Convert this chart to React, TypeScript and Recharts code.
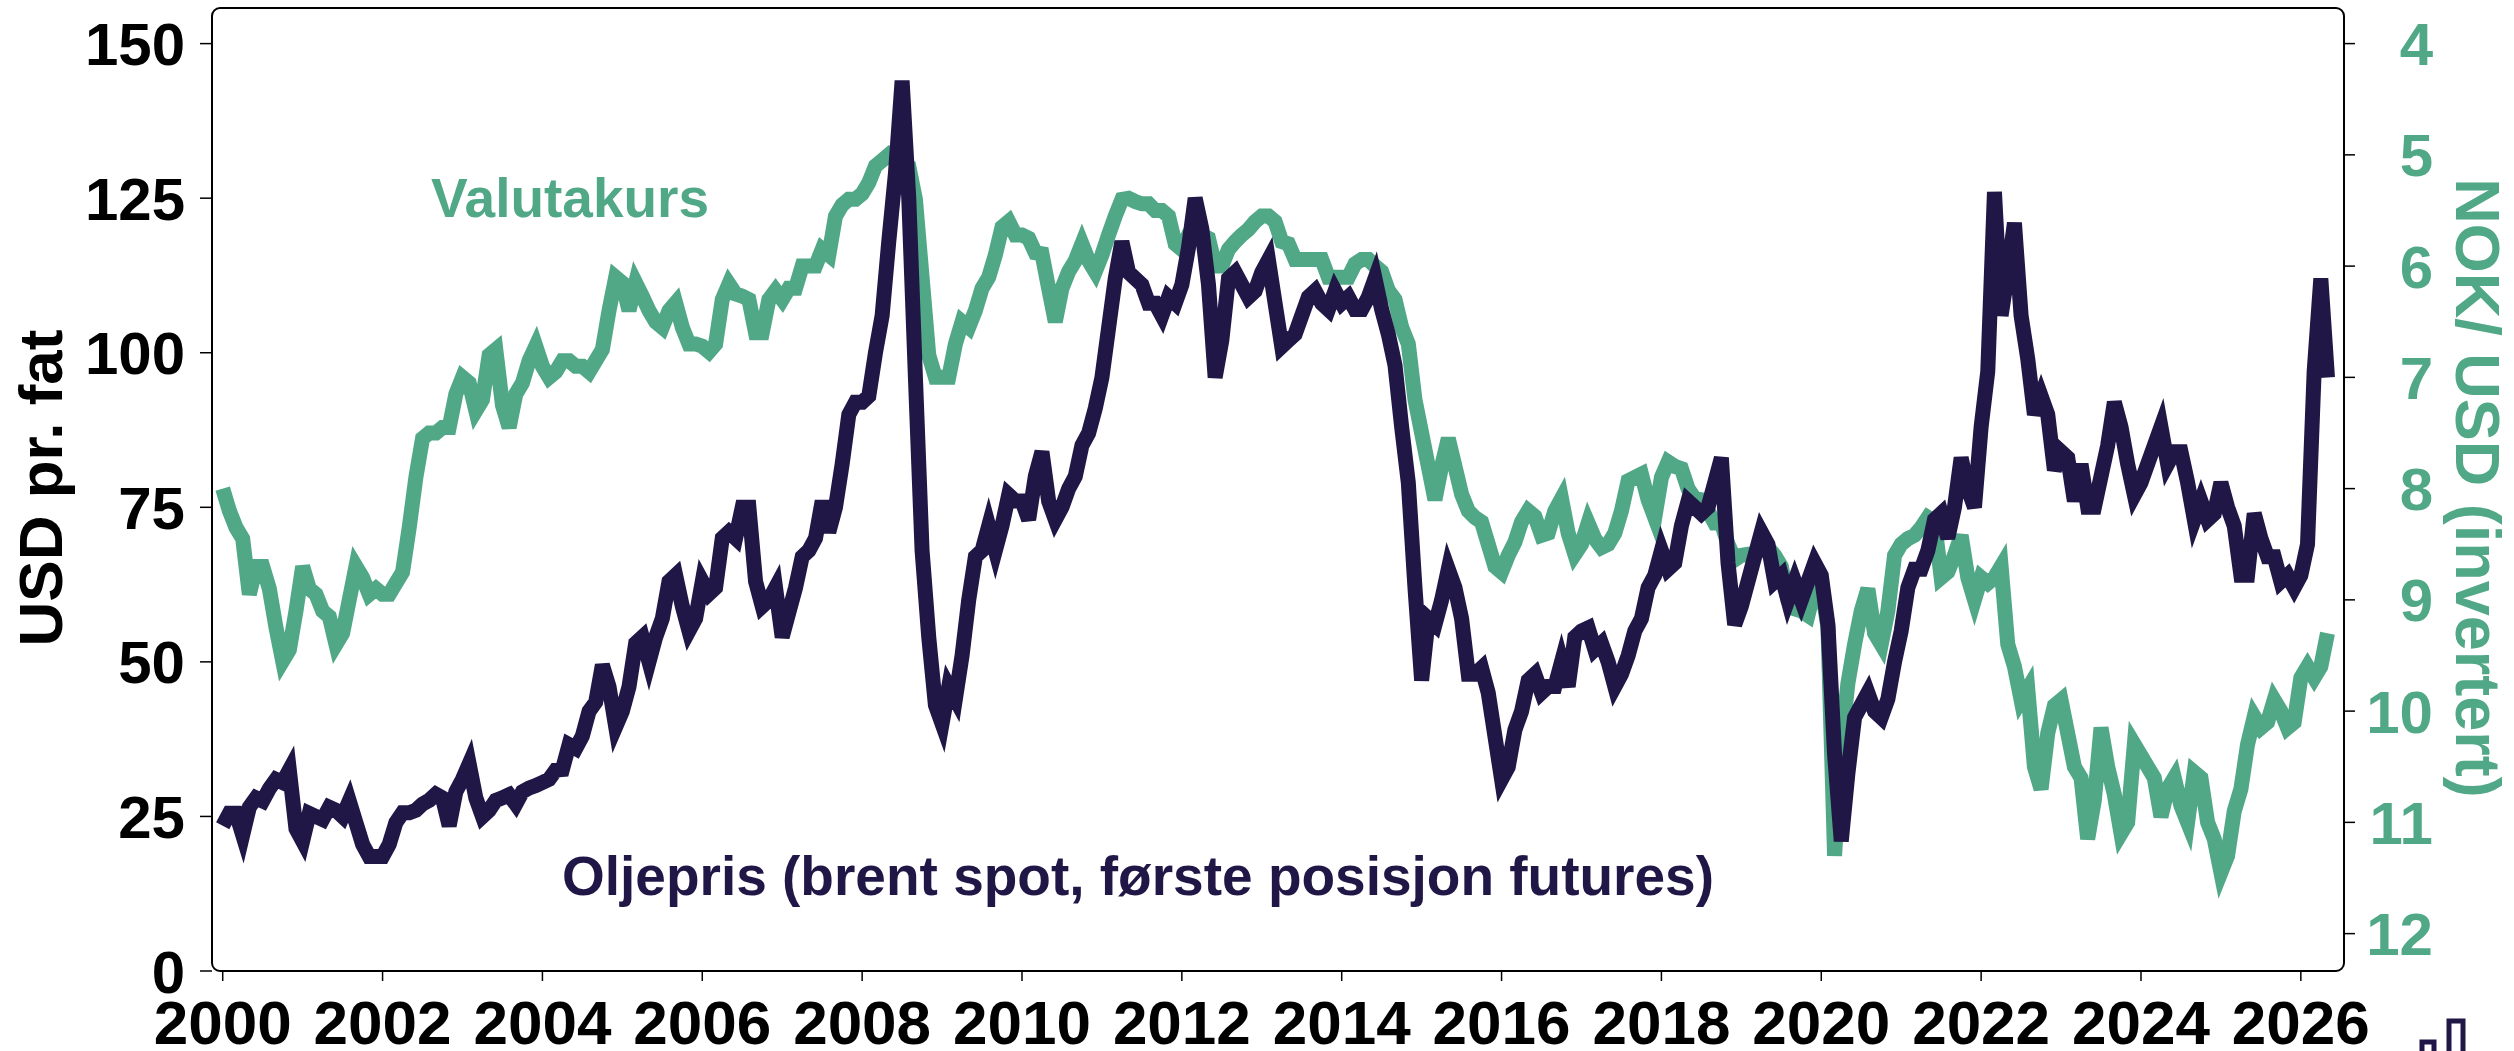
import { LineChart, Line, XAxis, YAxis, ReferenceArea } from 'recharts';

const FONT = '"Liberation Sans", Arial, Helvetica, sans-serif';
const NAVY = '#201747';
const GREEN = '#51a886';

// monthly observations, first value = January 2000
const START_YEAR = 2000;

// Brent spot, USD per barrel
const oilUsd = [
  23.5, 25.5, 25.5, 22, 26.5, 28, 27.5, 29.5, 31, 30.5, 32.5, 23, // 2000
  21, 25.5, 25, 24.5, 26.5, 26, 25, 27.5, 24, 20.5, 18.5, 18.5, // 2001
  18.5, 20.5, 24, 25.6, 25.6, 26, 27, 27.6, 28.6, 28, 23.5, 29, // 2002
  31, 33.5, 28, 25, 26, 27.6, 28, 28.5, 27, 29, 29.6, 30, // 2003
  30.5, 31, 32.5, 32.6, 36.6, 36, 38, 42, 43.5, 49.5, 46, 39.5, // 2004
  42, 46, 53, 54, 50, 54, 57, 63, 64, 59, 55, 57, // 2005
  63, 61, 62, 70, 71, 70, 75, 75, 63, 59, 60, 62, // 2006
  54, 58, 62, 67, 68, 70, 76, 71, 75, 82, 90, 92, // 2007
  92, 93, 100, 106, 118, 129, 144, 125, 96, 68, 54, 43, // 2008
  40, 46, 44, 51, 60, 67, 68, 72, 68, 72, 77, 76, // 2009
  76, 73, 80, 84, 76, 73, 75, 78, 80, 85, 87, 91, // 2010
  96, 104, 112, 118, 113, 112, 111, 108, 108, 106, 109, 108, // 2011
  111, 117, 125, 120, 111, 96, 102, 112, 113, 111, 109, 110, // 2012
  113, 115, 108, 101, 102, 103, 106, 109, 110, 108, 107, 110, // 2013
  108, 109, 107, 107, 109, 112, 107, 103, 98, 88, 79, 62, // 2014
  47, 57, 56, 60, 65, 62, 57, 48, 48, 49, 45, 38, // 2015
  31, 33, 39, 42, 47, 48, 45, 46, 46, 50, 46, 54, // 2016
  55, 55.5, 52, 53, 50, 46, 48, 51, 55, 57, 62, 64, // 2017
  68, 65, 66, 72, 76, 75, 74, 75, 79, 83, 66, 56, // 2018
  59, 63, 67, 71, 69, 63, 64, 60, 63, 60, 63, 66, // 2019
  64, 56, 35, 21, 32, 41, 43, 45, 42, 41, 44, 50, // 2020
  55, 62, 65, 65, 68, 73, 74, 70, 75, 83, 78, 75, // 2021
  88, 97, 126, 106, 113, 121, 106, 99, 90, 93, 90, 81, // 2022
  84, 83, 76, 82, 75, 75, 80, 85, 92, 88, 82, 77, // 2023
  79, 82, 85, 88, 82, 84, 84, 79, 73, 76, 73, 74, // 2024
  79, 75, 72, 64, 64, 74, 70, 67, 67, 63, 64, 62, // 2025
  64, 69, 97, 112, 96, // 2026
];

// NOK per USD (plotted on an inverted axis)
const nokPerUsd = [
  8.0, 8.2, 8.35, 8.45, 8.95, 8.7, 8.7, 8.9, 9.25, 9.55, 9.45, 9.1, // 2000
  8.7, 8.9, 8.95, 9.1, 9.15, 9.4, 9.3, 9.0, 8.7, 8.8, 8.95, 8.9, // 2001
  8.95, 8.95, 8.85, 8.75, 8.35, 7.9, 7.55, 7.5, 7.5, 7.45, 7.45, 7.15, // 2002
  7.0, 7.05, 7.3, 7.2, 6.8, 6.75, 7.25, 7.45, 7.15, 7.05, 6.85, 6.72, // 2003
  6.9, 7.0, 6.95, 6.85, 6.85, 6.9, 6.9, 6.95, 6.85, 6.75, 6.4, 6.1, // 2004
  6.15, 6.4, 6.15, 6.27, 6.4, 6.5, 6.55, 6.4, 6.33, 6.55, 6.7, 6.7, // 2005
  6.72, 6.77, 6.7, 6.3, 6.16, 6.25, 6.27, 6.3, 6.6, 6.6, 6.3, 6.22, // 2006
  6.3, 6.2, 6.2, 6.0, 6.0, 6.0, 5.85, 5.9, 5.55, 5.45, 5.4, 5.4, // 2007
  5.35, 5.25, 5.1, 5.05, 5.0, 5.05, 5.05, 5.1, 5.4, 6.1, 6.8, 7.0, // 2008
  7.0, 7.0, 6.7, 6.5, 6.55, 6.4, 6.2, 6.1, 5.9, 5.65, 5.6, 5.72, // 2009
  5.72, 5.75, 5.88, 5.89, 6.2, 6.5, 6.2, 6.05, 5.95, 5.8, 5.95, 6.05, // 2010
  5.9, 5.72, 5.55, 5.4, 5.39, 5.42, 5.44, 5.44, 5.5, 5.5, 5.55, 5.8, // 2011
  5.85, 5.72, 5.7, 5.72, 5.75, 6.0, 6.0, 5.85, 5.78, 5.72, 5.67, 5.6, // 2012
  5.55, 5.55, 5.6, 5.78, 5.8, 5.94, 5.94, 5.94, 5.94, 5.94, 6.1, 6.1, // 2013
  6.1, 6.1, 5.98, 5.94, 5.94, 6.0, 6.05, 6.22, 6.3, 6.55, 6.7, 7.2, // 2014
  7.5, 7.8, 8.1, 7.8, 7.55, 7.8, 8.05, 8.2, 8.26, 8.3, 8.5, 8.7, // 2015
  8.75, 8.6, 8.48, 8.3, 8.2, 8.25, 8.42, 8.4, 8.2, 8.09, 8.4, 8.59, // 2016
  8.5, 8.31, 8.45, 8.53, 8.5, 8.4, 8.2, 7.93, 7.9, 7.87, 8.1, 8.26, // 2017
  7.9, 7.76, 7.8, 7.82, 8.0, 8.09, 8.1, 8.2, 8.31, 8.31, 8.5, 8.64, // 2018
  8.6, 8.59, 8.59, 8.55, 8.53, 8.6, 8.7, 9.0, 9.08, 9.1, 9.14, 8.9, // 2019
  8.86, 9.25, 11.3, 10.3, 9.75, 9.4, 9.1, 8.9, 9.3, 9.4, 9.1, 8.6, // 2020
  8.5, 8.45, 8.42, 8.35, 8.26, 8.3, 8.8, 8.75, 8.6, 8.42, 8.8, 9.0, // 2021
  8.8, 8.85, 8.8, 8.7, 9.4, 9.6, 9.9, 9.8, 10.5, 10.7, 10.2, 9.95, // 2022
  9.9, 10.2, 10.5, 10.6, 11.15, 10.8, 10.15, 10.5, 10.75, 11.1, 11.0, 10.3, // 2023
  10.4, 10.5, 10.6, 10.95, 10.7, 10.6, 10.85, 11.0, 10.55, 10.6, 11.0, 11.15, // 2024
  11.45, 11.3, 10.9, 10.7, 10.3, 10.05, 10.15, 10.1, 9.9, 10.0, 10.15, 10.1, // 2025
  9.7, 9.6, 9.7, 9.6, 9.3, // 2026
];

const yearTicks = [2000, 2002, 2004, 2006, 2008, 2010, 2012, 2014, 2016, 2018, 2020, 2022, 2024, 2026];
const usdTicks = [0, 25, 50, 75, 100, 125, 150];
const nokTicks = [4, 5, 6, 7, 8, 9, 10, 11, 12];

const X_DOMAIN: [number, number] = [1999.866, 2026.54];
const USD_DOMAIN: [number, number] = [0, 155.76];
const NOK_DOMAIN: [number, number] = [3.68, 12.336];

const chartData = oilUsd.map((oil, i) => ({
  t: START_YEAR + i / 12,
  oil,
  nok: nokPerUsd[i],
}));

const XTick = (props: any) => {
  const { x, y, payload } = props;
  return (
    <text x={x} y={y} dy={63} textAnchor="middle" fill="#000" fontSize={62} fontWeight="bold" fontFamily={FONT}>
      {payload.value}
    </text>
  );
};

const UsdTick = (props: any) => {
  const { x, y, payload } = props;
  return (
    <text x={x} y={y} dy="0.36em" textAnchor="end" fill="#000" fontSize={60} fontWeight="bold" fontFamily={FONT}>
      {payload.value}
    </text>
  );
};

const NokTick = (props: any) => {
  const { x, y, payload } = props;
  return (
    <text x={x + 78} y={y} dy="0.36em" textAnchor="end" fill={GREEN} fontSize={60} fontWeight="bold" fontFamily={FONT}>
      {payload.value}
    </text>
  );
};

export default function App() {
  return (
    <div style={{ position: 'absolute', left: 0, top: 0, width: 2514, height: 1051, background: '#fff' }}>
      <LineChart width={2514} height={1051} data={chartData} margin={{ top: 8, right: 0, bottom: 0, left: 0 }}>
        <XAxis
          dataKey="t"
          type="number"
          domain={X_DOMAIN}
          ticks={yearTicks}
          interval={0}
          allowDataOverflow
          axisLine={false}
          tickLine={{ stroke: '#000', strokeWidth: 1.5 }}
          tickSize={10}
          tickMargin={0}
          height={80}
          tick={(p: any) => <XTick {...p} />}
        />
        <YAxis
          yAxisId="usd"
          orientation="left"
          domain={USD_DOMAIN}
          ticks={usdTicks}
          interval={0}
          allowDataOverflow
          axisLine={false}
          tickLine={{ stroke: '#000', strokeWidth: 1.5 }}
          tickSize={12}
          tickMargin={15}
          width={212}
          tick={(p: any) => <UsdTick {...p} />}
        />
        <YAxis
          yAxisId="nok"
          orientation="right"
          reversed
          domain={NOK_DOMAIN}
          ticks={nokTicks}
          interval={0}
          allowDataOverflow
          axisLine={false}
          tickLine={{ stroke: '#000', strokeWidth: 1.5 }}
          tickSize={11}
          tickMargin={0}
          width={170}
          tick={(p: any) => <NokTick {...p} />}
        />
        <ReferenceArea
          yAxisId="usd"
          x1={X_DOMAIN[0]}
          x2={X_DOMAIN[1]}
          y1={USD_DOMAIN[0]}
          y2={USD_DOMAIN[1]}
          fill="none"
          stroke="#000"
          strokeWidth={2}
          radius={8}
        />
        <Line
          yAxisId="nok"
          dataKey="nok"
          type="linear"
          stroke={GREEN}
          strokeWidth={15}
          dot={false}
          isAnimationActive={false}
        />
        <Line
          yAxisId="usd"
          dataKey="oil"
          type="linear"
          stroke={NAVY}
          strokeWidth={15}
          dot={false}
          isAnimationActive={false}
        />
      </LineChart>
      <svg
        width={2514}
        height={1051}
        style={{ position: 'absolute', left: 0, top: 0, pointerEvents: 'none' }}
        fontFamily={FONT}
        fontWeight="bold"
      >
        <text x={570} y={217} textAnchor="middle" fontSize={55} fill={GREEN}>Valutakurs</text>
        <text x={1138} y={895} textAnchor="middle" fontSize={55} fill={NAVY}>
          Oljepris (brent spot, første posisjon futures)
        </text>
        <text x={62} y={488} textAnchor="middle" fontSize={62} fill="#000" transform="rotate(-90 62 488)">
          USD pr. fat
        </text>
        <text x={2456} y={488} textAnchor="middle" fontSize={63} fill={GREEN} transform="rotate(90 2456 488)">
          NOK/ USD (invertert)
        </text>
        <rect x={2422} y={1042} width={12} height={20} fill="#fff" stroke={NAVY} strokeWidth={5} />
        <rect x={2449} y={1021} width={14} height={40} fill="#fff" stroke={NAVY} strokeWidth={5} />
      </svg>
    </div>
  );
}
